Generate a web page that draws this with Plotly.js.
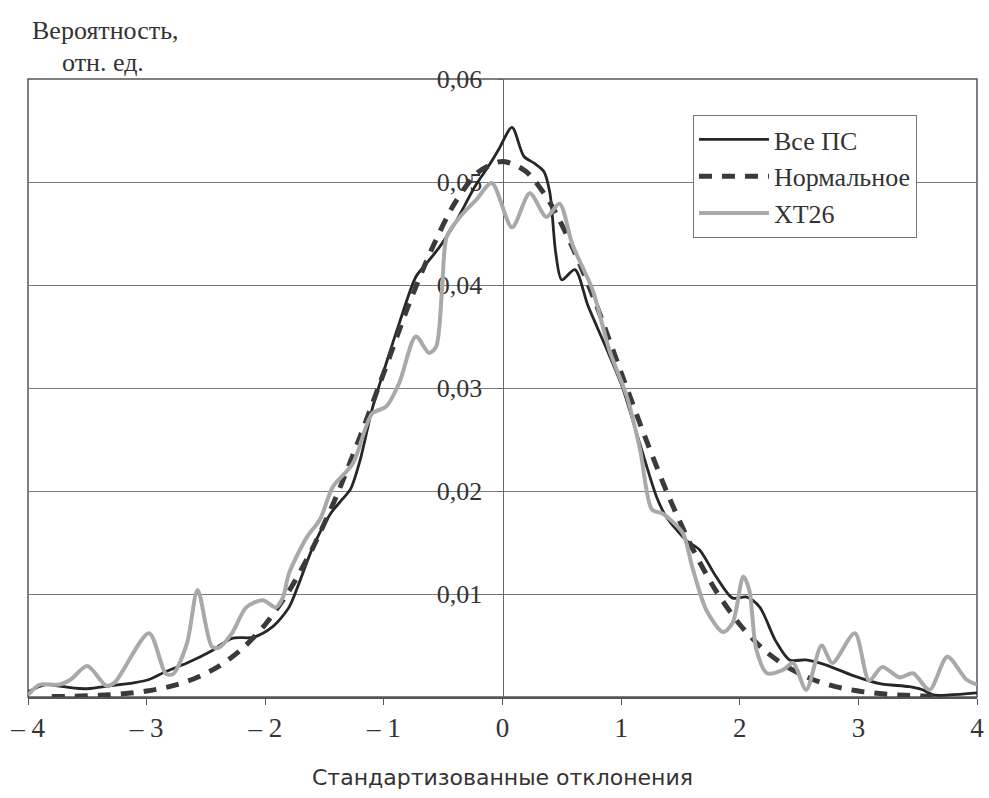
<!DOCTYPE html>
<html>
<head>
<meta charset="utf-8">
<script src="https://cdn.plot.ly/plotly-3.0.1.min.js"></script>
<style>html,body{margin:0;padding:0;background:#fff;}#chart{width:989px;height:798px;}</style>
</head>
<body>
<div id="chart"></div>
<script>
// ---- data ----
const allX = [-4.0,-3.85,-3.7,-3.5,-3.3,-3.1,-2.98,-2.85,-2.66,-2.45,-2.28,-2.1,-1.94,-1.8,-1.71,-1.6,-1.45,-1.35,-1.28,-1.2,-1.1,-0.98,-0.87,-0.73,-0.64,-0.53,-0.42,-0.22,-0.12,-0.03,0.08,0.18,0.27,0.35,0.40,0.45,0.50,0.61,0.72,0.87,1.01,1.16,1.30,1.38,1.55,1.66,1.80,1.94,2.06,2.17,2.30,2.42,2.56,2.73,2.95,3.18,3.43,3.54,3.63,3.77,4.0];
const allY = [0.0005,0.0012,0.0010,0.0008,0.0011,0.0014,0.0017,0.0024,0.0033,0.0045,0.0057,0.0058,0.0068,0.0087,0.0112,0.0145,0.0178,0.0192,0.0202,0.0230,0.0279,0.0324,0.0363,0.0408,0.0421,0.0437,0.0456,0.0498,0.0515,0.0532,0.0553,0.0525,0.0518,0.0510,0.0489,0.0430,0.0405,0.0415,0.0380,0.0340,0.0301,0.0245,0.0194,0.0175,0.0152,0.0143,0.0117,0.0096,0.0097,0.0087,0.0055,0.0036,0.0036,0.0031,0.0021,0.0013,0.0010,0.0007,0.0002,0.0002,0.0004];

const normX = [-3.8,-3.6,-3.4,-3.2,-3.0,-2.8,-2.6,-2.4,-2.2,-2.0,-1.8,-1.6,-1.4,-1.2,-1.0,-0.8,-0.6,-0.4,-0.2,0,0.2,0.4,0.6,0.8,1.0,1.2,1.4,1.6,1.8,2.0,2.2,2.4,2.6,2.8,3.0,3.2,3.4,3.6,3.7];
const normY = [0.00004,0.00008,0.00016,0.00031,0.00058,0.00103,0.00177,0.00292,0.00462,0.00704,0.0103,0.01446,0.0195,0.0253,0.0315,0.0378,0.0434,0.0480,0.0510,0.0520,0.0510,0.0480,0.0434,0.0378,0.0315,0.0253,0.0195,0.01446,0.0103,0.00704,0.00462,0.00292,0.00177,0.00103,0.00058,0.00031,0.00016,0.00008,0.00006];

const xtX = [-4.0,-3.9,-3.74,-3.64,-3.5,-3.34,-3.27,-2.98,-2.84,-2.78,-2.66,-2.57,-2.45,-2.39,-2.28,-2.16,-2.02,-1.91,-1.85,-1.80,-1.65,-1.54,-1.43,-1.26,-1.1,-0.98,-0.87,-0.73,-0.62,-0.56,-0.51,-0.47,-0.36,-0.22,-0.09,0.08,0.23,0.37,0.48,0.59,0.76,0.90,1.05,1.16,1.26,1.35,1.52,1.60,1.72,1.86,1.94,2.03,2.08,2.14,2.23,2.36,2.45,2.56,2.69,2.78,2.97,3.09,3.2,3.35,3.46,3.6,3.75,3.91,4.0];
const xtY = [0.0002,0.0012,0.0012,0.0017,0.0030,0.0011,0.0014,0.0062,0.0023,0.0022,0.0052,0.0104,0.0049,0.0048,0.0062,0.0087,0.0094,0.0087,0.0097,0.0120,0.0155,0.0172,0.0204,0.0227,0.0275,0.0282,0.0305,0.0350,0.0334,0.0340,0.0395,0.0447,0.0466,0.0483,0.0499,0.0456,0.0489,0.0466,0.0479,0.0439,0.0395,0.0337,0.0291,0.0240,0.0182,0.0178,0.0159,0.0126,0.0084,0.0063,0.0072,0.0117,0.0104,0.0046,0.0023,0.0026,0.0033,0.0007,0.0050,0.0033,0.0062,0.0016,0.0029,0.0019,0.0023,0.0007,0.0039,0.0017,0.0012];

const seriesNames = ['Все ПС','Нормальное','XT26'];
const xTickVals = [-4,-3,-2,-1,0,1,2,3,4];
const xTickText = ['– 4','– 3','– 2','– 1','0','1','2','3','4'];
const yTickVals = [0.01,0.02,0.03,0.04,0.05,0.06];
const yTickText = ['0,01','0,02','0,03','0,04','0,05','0,06'];

const serif = 'Liberation Serif, Times New Roman, serif';

const traces = [
  {x: allX, y: allY, name: seriesNames[0], type: 'scatter', mode: 'lines',
   line: {color: '#262626', width: 2.8, shape: 'spline', smoothing: 0.8}},
  {x: normX, y: normY, name: seriesNames[1], type: 'scatter', mode: 'lines',
   line: {color: '#3a3a3a', width: 5, dash: '13px,10px', shape: 'spline', smoothing: 0.8}},
  {x: xtX, y: xtY, name: seriesNames[2], type: 'scatter', mode: 'lines',
   line: {color: '#a9a9a9', width: 4, shape: 'spline', smoothing: 0.8}}
];

const layout = {
  width: 989, height: 798,
  margin: {l: 28, r: 12, t: 79, b: 101},
  paper_bgcolor: '#ffffff', plot_bgcolor: '#ffffff',
  showlegend: true,
  font: {family: serif, color: '#333', size: 26},
  xaxis: {
    range: [-4, 4], tickvals: xTickVals, ticktext: xTickText,
    showgrid: false, zeroline: false,
    showline: true, linecolor: '#555', linewidth: 1.5,
    ticks: 'outside', ticklen: 6, tickcolor: '#555',
    ticklabelstandoff: 0,
    tickfont: {family: serif, size: 27, color: '#333'},
    title: {text: 'Стандартизованные отклонения', standoff: 27,
            font: {family: 'DejaVu Sans, sans-serif', size: 22, color: '#333'}},
    fixedrange: true
  },
  yaxis: {
    range: [0, 0.06], tickvals: yTickVals, ticktext: yTickText,
    anchor: 'free', position: 0.5, side: 'left',
    showgrid: true, gridcolor: '#7a7a7a', gridwidth: 1,
    zeroline: false, showline: true, linecolor: '#666', linewidth: 1,
    ticks: 'outside', ticklen: 5, tickcolor: '#666',
    ticklabelstandoff: 10, layer: 'below traces',
    tickfont: {family: serif, size: 26, color: '#333'},
    fixedrange: true
  },
  legend: {
    x: 0.7007, y: 0.9417, xanchor: 'left', yanchor: 'top',
    bgcolor: '#ffffff', bordercolor: '#777', borderwidth: 1,
    font: {family: serif, size: 26, color: '#333'},
    itemwidth: 70
  },
  shapes: [
    {type: 'rect', xref: 'paper', yref: 'paper', x0: 0, x1: 1, y0: 0, y1: 1,
     line: {color: '#555', width: 1.5}, fillcolor: 'rgba(0,0,0,0)', layer: 'below'}
  ],
  annotations: [
    {text: 'Вероятность,', xref: 'paper', yref: 'paper', x: 0.002, y: 1.079,
     xanchor: 'left', yanchor: 'middle', showarrow: false,
     font: {family: serif, size: 26, color: '#333'}},
    {text: 'отн. ед.', xref: 'paper', yref: 'paper', x: 0.034, y: 1.026,
     xanchor: 'left', yanchor: 'middle', showarrow: false,
     font: {family: serif, size: 26, color: '#333'}}
  ]
};

Plotly.newPlot('chart', traces, layout, {displayModeBar: false, staticPlot: true});
</script>
</body>
</html>
